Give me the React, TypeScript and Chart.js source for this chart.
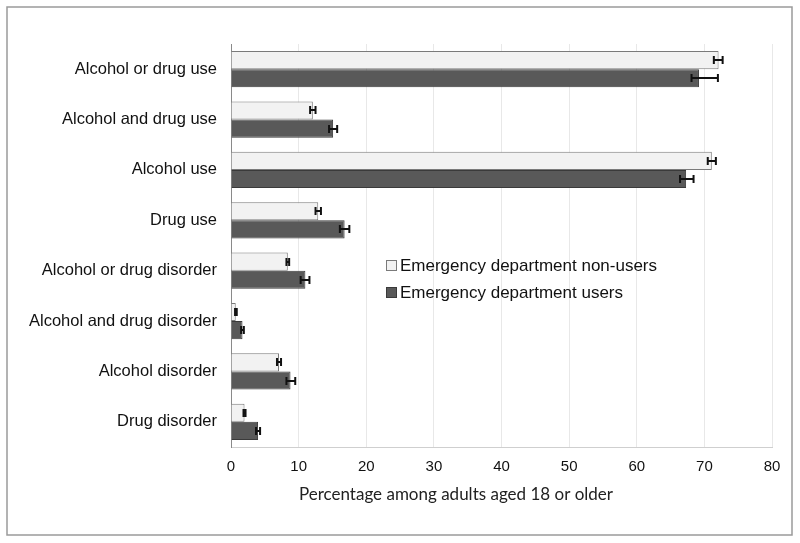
import React, { useEffect, useRef } from "react";
import { Chart, registerables } from "chart.js";

Chart.register(...registerables);

const categories = [
  "Alcohol or drug use",
  "Alcohol and drug use",
  "Alcohol use",
  "Drug use",
  "Alcohol or drug disorder",
  "Alcohol and drug disorder",
  "Alcohol disorder",
  "Drug disorder",
];

const seriesNames = ["Emergency department non-users", "Emergency department users"];

const nonUsers = [72.1, 12.1, 71.1, 12.9, 8.4, 0.7, 7.1, 2.0];
const nonUsersLow = [71.4, 11.7, 70.5, 12.5, 8.2, 0.6, 6.8, 1.85];
const nonUsersHigh = [72.7, 12.5, 71.7, 13.3, 8.6, 0.85, 7.4, 2.15];

const users = [69.2, 15.1, 67.3, 16.8, 11.0, 1.7, 8.8, 4.0];
const usersLow = [68.1, 14.5, 66.4, 16.1, 10.3, 1.5, 8.2, 3.7];
const usersHigh = [72.0, 15.7, 68.4, 17.5, 11.6, 1.9, 9.5, 4.3];

const xTicks = [0, 10, 20, 30, 40, 50, 60, 70, 80];
const xTitle = "Percentage among adults aged 18 or older";

const errLows = [nonUsersLow, usersLow];
const errHighs = [nonUsersHigh, usersHigh];

const fills = ["#f2f2f2", "#595959"];
const borders = ["#7a7a7a", "#3a3a3a"];

const extrasPlugin = {
  id: "extras",
  afterDatasetsDraw(chart: any) {
    const ctx = chart.ctx;
    const xs = chart.scales.x;
    ctx.save();
    ctx.strokeStyle = "#111";
    ctx.lineWidth = 2;
    chart.data.datasets.forEach((ds: any, di: number) => {
      const meta = chart.getDatasetMeta(di);
      meta.data.forEach((bar: any, i: number) => {
        const y = Math.round(bar.y);
        const x1 = xs.getPixelForValue(errLows[di][i]);
        const x2 = xs.getPixelForValue(errHighs[di][i]);
        ctx.beginPath();
        ctx.moveTo(x1, y);
        ctx.lineTo(x2, y);
        ctx.moveTo(x1, y - 4);
        ctx.lineTo(x1, y + 4);
        ctx.moveTo(x2, y - 4);
        ctx.lineTo(x2, y + 4);
        ctx.stroke();
      });
    });
    ctx.restore();
  },
  afterDraw(chart: any) {
    const ctx = chart.ctx;
    const area = chart.chartArea;
    ctx.save();
    // frame
    ctx.strokeStyle = "#9a9a9a";
    ctx.lineWidth = 1.5;
    ctx.strokeRect(7, 7, 785, 528);
    // legend
    ctx.font = "17px 'Liberation Sans', Arial, sans-serif";
    ctx.textBaseline = "middle";
    ctx.textAlign = "left";
    const lx = area.left + 155;
    const ly = [area.top + 221, area.top + 248];
    seriesNames.forEach((name, i) => {
      ctx.fillStyle = fills[i];
      ctx.fillRect(lx, ly[i] - 5, 11, 11);
      ctx.strokeStyle = borders[i];
      ctx.lineWidth = 1;
      ctx.strokeRect(lx + 0.5, ly[i] - 4.5, 10, 10);
      ctx.fillStyle = "#111";
      ctx.fillText(name, lx + 14, ly[i] + 1);
    });
    // axis title
    ctx.font = "17px Lato, 'Open Sans', sans-serif";
    ctx.textAlign = "center";
    ctx.fillStyle = "#222";
    ctx.fillText(xTitle, area.left + 225, area.bottom + 48);
    ctx.restore();
  },
};

export default function App() {
  const ref = useRef<HTMLCanvasElement>(null);
  useEffect(() => {
    document.body.style.margin = "0";
    const chart = new Chart(ref.current!, {
      type: "bar",
      data: {
        labels: categories,
        datasets: [
          {
            label: seriesNames[0],
            data: nonUsers,
            backgroundColor: fills[0],
            borderColor: borders[0],
            borderWidth: 1,
            categoryPercentage: 0.72,
            barPercentage: 1,
          },
          {
            label: seriesNames[1],
            data: users,
            backgroundColor: fills[1],
            borderColor: borders[1],
            borderWidth: 1,
            categoryPercentage: 0.72,
            barPercentage: 1,
          },
        ],
      },
      options: {
        indexAxis: "y",
        animation: false,
        responsive: false,
        layout: { padding: { left: 0, right: 28, top: 44, bottom: 0 } },
        plugins: { legend: { display: false }, tooltip: { enabled: false } },
        scales: {
          x: {
            min: 0,
            max: 80,
            afterBuildTicks(scale: any) {
              scale.ticks = xTicks.map((v) => ({ value: v }));
            },
            afterFit(scale: any) {
              scale.height = 96;
            },
            grid: { color: "#e8e8e8", drawTicks: false },
            border: { color: "#cfcfcf", width: 1 },
            ticks: {
              padding: 11,
              color: "#111",
              font: { family: "'Liberation Sans', Arial, sans-serif", size: 15 },
            },
          },
          y: {
            afterFit(scale: any) {
              scale.width = 231;
            },
            grid: { display: false, drawTicks: false },
            border: { color: "#8a8a8a", width: 1 },
            ticks: {
              padding: 14,
              color: "#111",
              font: { family: "'Liberation Sans', Arial, sans-serif", size: 16.5 },
            },
          },
        },
      },
      plugins: [extrasPlugin],
    });
    return () => chart.destroy();
  }, []);
  return <canvas ref={ref} width={800} height={543} style={{ display: "block" }} />;
}
